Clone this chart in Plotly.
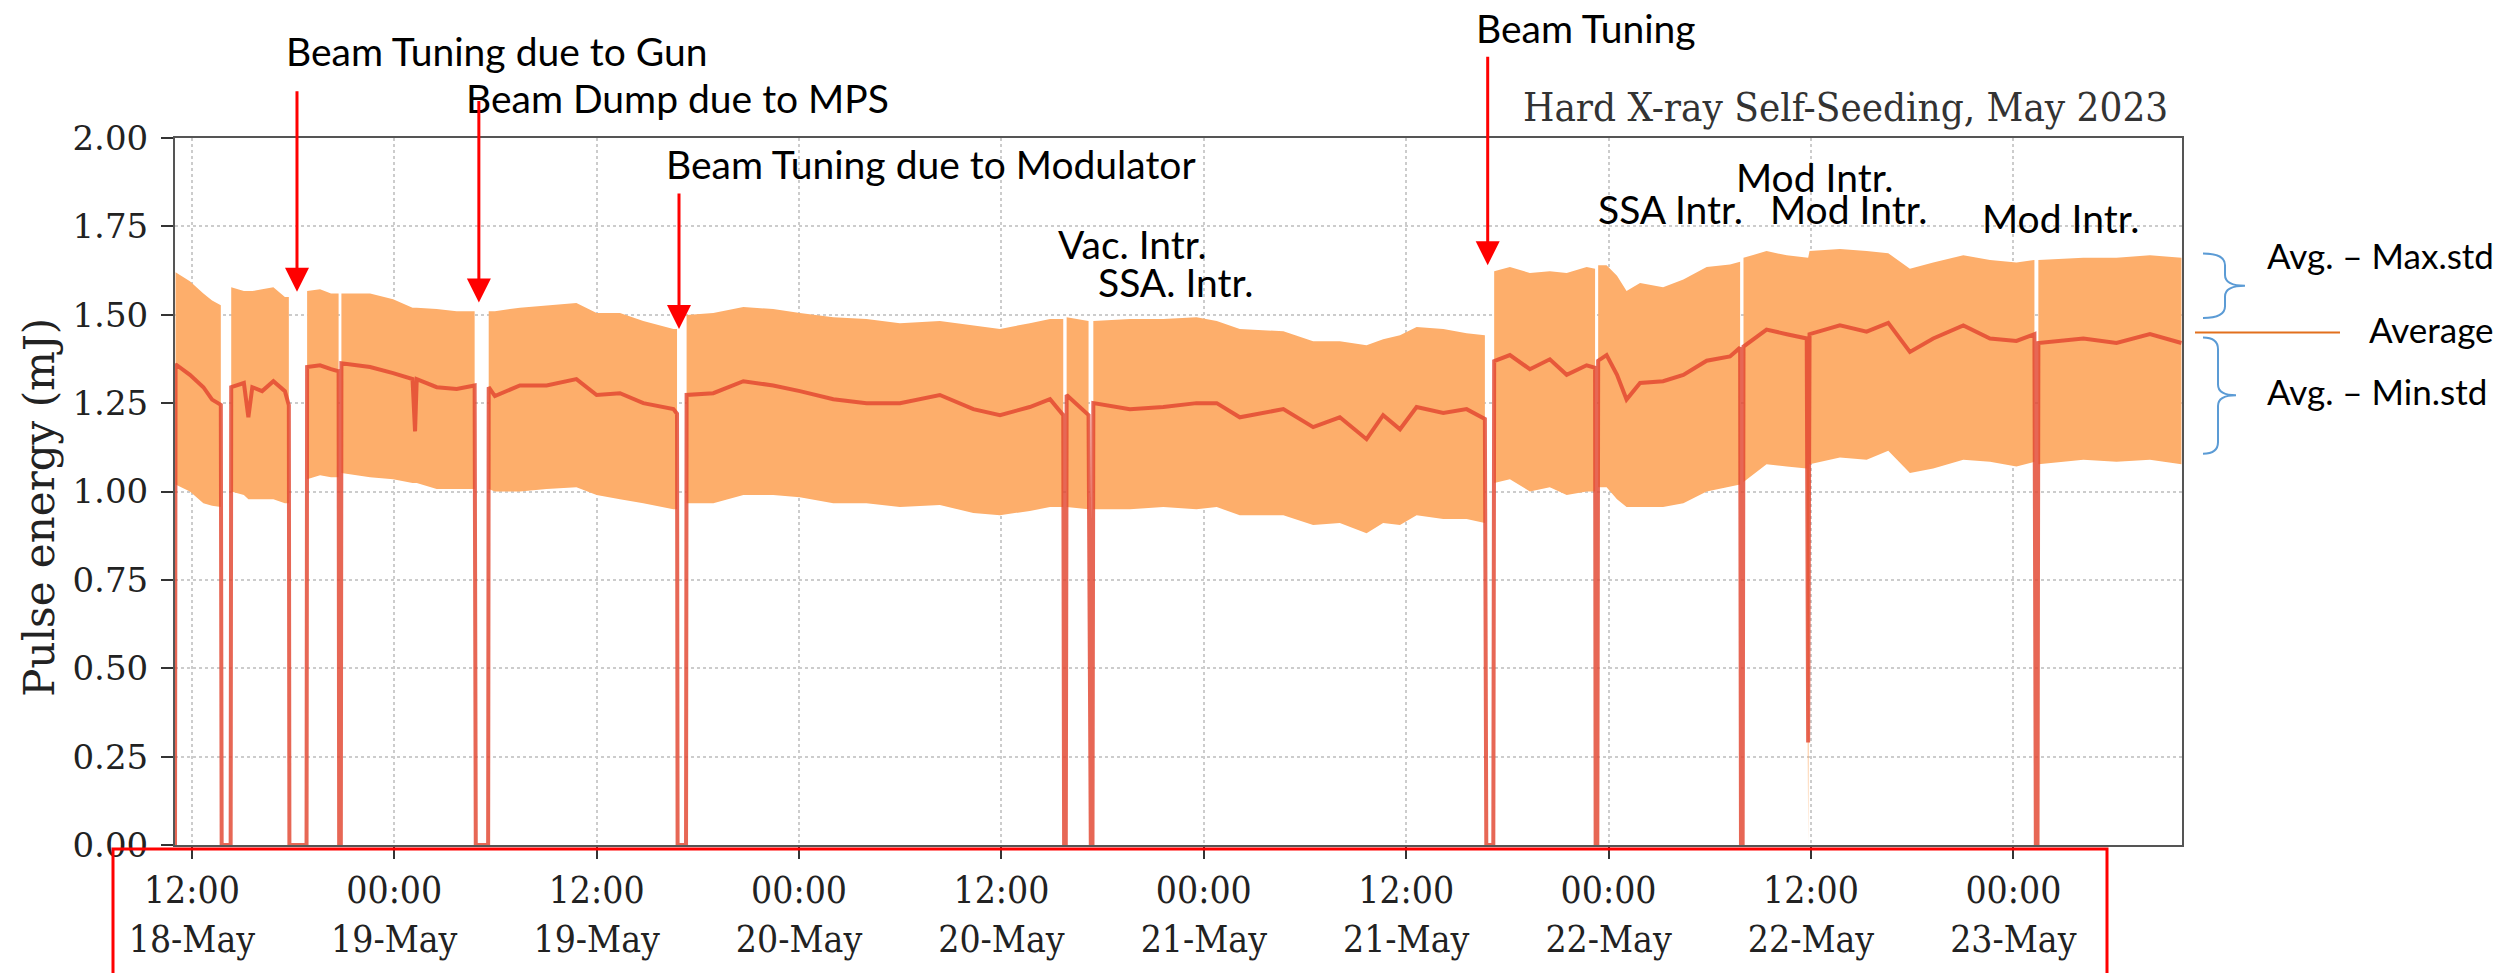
import plotly.graph_objects as go

# ---------------- data ----------------
times = [
    "2023-05-18 11:00", "2023-05-18 11:02", "2023-05-18 11:53", "2023-05-18 12:41", "2023-05-18 13:12",
    "2023-05-18 13:43", "2023-05-18 13:46", "2023-05-18 14:18", "2023-05-18 14:20", "2023-05-18 15:05",
    "2023-05-18 15:21", "2023-05-18 15:35", "2023-05-18 16:10", "2023-05-18 16:50", "2023-05-18 17:31",
    "2023-05-18 17:45", "2023-05-18 17:47", "2023-05-18 18:48", "2023-05-18 18:50", "2023-05-18 19:36",
    "2023-05-18 20:15", "2023-05-18 20:42", "2023-05-18 20:44", "2023-05-18 20:50", "2023-05-18 20:52",
    "2023-05-18 22:34", "2023-05-18 23:56", "2023-05-19 01:05", "2023-05-19 01:14", "2023-05-19 01:20",
    "2023-05-19 02:31", "2023-05-19 03:42", "2023-05-19 04:46", "2023-05-19 04:50", "2023-05-19 05:34",
    "2023-05-19 05:36", "2023-05-19 05:58", "2023-05-19 07:27", "2023-05-19 09:02", "2023-05-19 10:48",
    "2023-05-19 12:00", "2023-05-19 13:23", "2023-05-19 14:46", "2023-05-19 16:33", "2023-05-19 16:46",
    "2023-05-19 16:48", "2023-05-19 17:18", "2023-05-19 17:20", "2023-05-19 18:55", "2023-05-19 20:42",
    "2023-05-19 22:28", "2023-05-20 00:03", "2023-05-20 02:02", "2023-05-20 04:00", "2023-05-20 05:59",
    "2023-05-20 08:21", "2023-05-20 10:20", "2023-05-20 11:55", "2023-05-20 13:41", "2023-05-20 14:53",
    "2023-05-20 15:40", "2023-05-20 15:43", "2023-05-20 15:49", "2023-05-20 15:52", "2023-05-20 17:10",
    "2023-05-20 17:18", "2023-05-20 17:24", "2023-05-20 17:27", "2023-05-20 19:37", "2023-05-20 21:36",
    "2023-05-20 23:34", "2023-05-21 00:46", "2023-05-21 02:08", "2023-05-21 04:43", "2023-05-21 06:29",
    "2023-05-21 08:04", "2023-05-21 09:39", "2023-05-21 10:38", "2023-05-21 11:38", "2023-05-21 12:37",
    "2023-05-21 14:12", "2023-05-21 15:35", "2023-05-21 16:40", "2023-05-21 16:45", "2023-05-21 17:10",
    "2023-05-21 17:13", "2023-05-21 18:09", "2023-05-21 19:20", "2023-05-21 20:31", "2023-05-21 21:31",
    "2023-05-21 22:42", "2023-05-21 23:12", "2023-05-21 23:14", "2023-05-21 23:20", "2023-05-21 23:23",
    "2023-05-21 23:53", "2023-05-22 00:30", "2023-05-22 01:04", "2023-05-22 01:52", "2023-05-22 03:14",
    "2023-05-22 04:26", "2023-05-22 05:49", "2023-05-22 07:12", "2023-05-22 07:48", "2023-05-22 07:51",
    "2023-05-22 07:57", "2023-05-22 08:00", "2023-05-22 09:22", "2023-05-22 10:34", "2023-05-22 11:45",
    "2023-05-22 11:50", "2023-05-22 11:55", "2023-05-22 13:43", "2023-05-22 15:18", "2023-05-22 16:35",
    "2023-05-22 17:52", "2023-05-22 19:15", "2023-05-22 21:02", "2023-05-22 22:37", "2023-05-23 00:11",
    "2023-05-23 01:15", "2023-05-23 01:20", "2023-05-23 01:26", "2023-05-23 01:29", "2023-05-23 04:09",
    "2023-05-23 06:07", "2023-05-23 08:06", "2023-05-23 09:58",
]
avg_energy = [
    0, 1.36, 1.33, 1.295, 1.26,
    1.245, 0, 0, 1.295, 1.307,
    1.21, 1.295, 1.284, 1.312, 1.284,
    1.244, 0, 0, 1.352, 1.357,
    1.346, 1.34, 0, 0, 1.363,
    1.352, 1.335, 1.318, 1.17, 1.318,
    1.295, 1.29, 1.30, 0, 0,
    1.295, 1.27, 1.30, 1.30, 1.318,
    1.273, 1.278, 1.25, 1.233, 1.22,
    0, 0, 1.273, 1.278, 1.312,
    1.30, 1.284, 1.261, 1.25, 1.25,
    1.273, 1.233, 1.216, 1.239, 1.261,
    1.216, 0, 0, 1.273, 1.216,
    0, 0, 1.25, 1.233, 1.239,
    1.25, 1.25, 1.21, 1.233, 1.182,
    1.21, 1.148, 1.216, 1.176, 1.239,
    1.222, 1.233, 1.205, 0, 0,
    1.369, 1.386, 1.346, 1.374, 1.33,
    1.357, 1.35, 0, 0, 1.37,
    1.386, 1.33, 1.26, 1.307, 1.312,
    1.33, 1.37, 1.382, 1.407, 0,
    0, 1.41, 1.458, 1.445, 1.433,
    0.29, 1.445, 1.47, 1.452, 1.477,
    1.395, 1.433, 1.47, 1.433, 1.426,
    1.445, 0, 0, 1.42, 1.433,
    1.42, 1.445, 1.42,
]
max_energy = [
    None, 1.62, 1.595, 1.56, 1.54,
    1.527, None, None, 1.578, 1.567,
    1.567, 1.567, 1.572, 1.578, 1.55,
    1.55, None, None, 1.567, 1.572,
    1.56, 1.56, None, None, 1.56,
    1.56, 1.544, 1.52, 1.52, 1.52,
    1.516, 1.51, 1.51, None, None,
    1.51, 1.51, 1.52, 1.527, 1.533,
    1.505, 1.505, 1.482, 1.46, 1.46,
    None, None, 1.499, 1.505, 1.522,
    1.516, 1.505, 1.493, 1.488, 1.476,
    1.482, 1.47, 1.46, 1.476, 1.488,
    1.488, None, None, 1.493, 1.482,
    None, None, 1.482, 1.488, 1.488,
    1.493, 1.482, 1.46, 1.453, 1.425,
    1.425, 1.414, 1.431, 1.442, 1.465,
    1.46, 1.448, 1.442, None, None,
    1.623, 1.635, 1.618, 1.623, 1.618,
    1.635, 1.63, None, None, 1.64,
    1.64, 1.61, 1.567, 1.59, 1.578,
    1.60, 1.635, 1.642, 1.65, None,
    None, 1.661, 1.68, 1.668, 1.661,
    1.661, 1.68, 1.686, 1.68, 1.674,
    1.63, 1.648, 1.668, 1.655, 1.648,
    1.655, None, None, 1.655, 1.661,
    1.661, 1.668, 1.661,
]
min_energy = [
    None, 1.02, 1.00, 0.967, 0.96,
    0.956, None, None, 1.00, 0.99,
    0.978, 0.978, 0.978, 0.978, 0.967,
    0.967, None, None, 1.035, 1.046,
    1.04, 1.04, None, None, 1.052,
    1.04, 1.035, 1.024, 1.024, 1.024,
    1.007, 1.007, 1.007, None, None,
    1.007, 1.00, 1.00, 1.007, 1.012,
    0.99, 0.978, 0.967, 0.95, 0.95,
    None, None, 0.967, 0.967, 0.99,
    0.99, 0.984, 0.967, 0.967, 0.956,
    0.962, 0.939, 0.933, 0.945, 0.956,
    0.956, None, None, 0.956, 0.95,
    None, None, 0.95, 0.95, 0.956,
    0.95, 0.956, 0.933, 0.933, 0.905,
    0.911, 0.882, 0.911, 0.905, 0.933,
    0.922, 0.922, 0.911, None, None,
    1.024, 1.035, 1.00, 1.012, 0.99,
    1.00, 1.00, None, None, 1.012,
    1.012, 0.978, 0.956, 0.956, 0.956,
    0.967, 1.00, 1.014, 1.02, None,
    None, 1.027, 1.077, 1.071, 1.065,
    0.0, 1.077, 1.096, 1.09, 1.115,
    1.052, 1.065, 1.09, 1.084, 1.071,
    1.084, None, None, 1.077, 1.09,
    1.084, 1.09, 1.077,
]

tick_times = ["2023-05-18 12:00", "2023-05-19 00:00", "2023-05-19 12:00", "2023-05-20 00:00",
              "2023-05-20 12:00", "2023-05-21 00:00", "2023-05-21 12:00", "2023-05-22 00:00",
              "2023-05-22 12:00", "2023-05-23 00:00"]
tick_labels = ["12:00<br>18-May", "00:00<br>19-May", "12:00<br>19-May", "00:00<br>20-May",
               "12:00<br>20-May", "00:00<br>21-May", "12:00<br>21-May", "00:00<br>22-May",
               "12:00<br>22-May", "00:00<br>23-May"]

# arrows: event time, tip value (mJ)
arrow_times = ["2023-05-18 18:14", "2023-05-19 05:01", "2023-05-19 16:53", "2023-05-21 16:50"]
arrow_tips = [1.565, 1.535, 1.46, 1.64]

event_labels = ["Beam Tuning due to Gun", "Beam Dump due to MPS", "Beam Tuning due to Modulator",
                "Vac. Intr.", "SSA. Intr.", "Beam Tuning", "SSA Intr.", "Mod Intr.", "Mod Intr.",
                "Mod Intr."]

# ---------------- geometry helpers (pixels -> paper) ----------------
W, H = 2507, 973
L, R, T, B = 175, 2182, 138, 861


def pxx(X):
    return (X - L) / (R - L)


def pxy(Y):
    return (B - Y) / (B - T)


fig = go.Figure()

# band (min..max) drawn as closed polygons, one per uninterrupted run
bx, by = [], []
seg = []
for t, hi, lo in zip(times, max_energy, min_energy):
    if hi is None:
        if seg:
            bx += [s[0] for s in seg] + [s[0] for s in reversed(seg)] + [None]
            by += [s[1] for s in seg] + [s[2] for s in reversed(seg)] + [None]
            seg = []
    else:
        seg.append((t, hi, lo))
if seg:
    bx += [s[0] for s in seg] + [s[0] for s in reversed(seg)]
    by += [s[1] for s in seg] + [s[2] for s in reversed(seg)]

fig.add_trace(go.Scatter(x=bx, y=by, mode="lines", fill="toself",
                         fillcolor="rgb(253,174,107)", line=dict(width=0),
                         hoverinfo="skip", showlegend=False))
fig.add_trace(go.Scatter(x=times, y=avg_energy, mode="lines",
                         line=dict(color="rgba(226,70,48,0.82)", width=4),
                         showlegend=False))

axis_common = dict(showline=True, mirror=True, linecolor="#555555", linewidth=2,
                   showgrid=True, gridcolor="#cccccc", griddash="dot", gridwidth=1.5,
                   ticks="outside", ticklen=12, tickwidth=2, tickcolor="#333333",
                   zeroline=False)

fig.update_layout(
    width=W, height=H, autosize=False,
    margin=dict(l=L, r=W - R, t=T, b=H - B),
    paper_bgcolor="white", plot_bgcolor="white",
    xaxis=dict(type="date", range=["2023-05-18 11:00", "2023-05-23 10:00"],
               tickmode="array", tickvals=tick_times, ticktext=tick_labels,
               tickfont=dict(family="DejaVu Serif Condensed, DejaVu Serif", size=37, color="#222222"),
               **axis_common),
    yaxis=dict(range=[0, 2], tickmode="linear", tick0=0, dtick=0.25, tickformat=".2f",
               tickfont=dict(family="DejaVu Serif", size=34, color="#222222"),
               ticklabelstandoff=6, **axis_common),
)

ann = []
# y axis title
ann.append(dict(text="Pulse energy (mJ)", x=pxx(40), y=pxy(516), xref="paper", yref="paper",
                textangle=-90, showarrow=False, xanchor="center", yanchor="middle",
                font=dict(family="DejaVu Serif", size=42, color="#222222")))
# chart title
ann.append(dict(text="Hard X-ray Self-Seeding, May 2023", x=pxx(2170), y=pxy(106),
                xref="paper", yref="paper", showarrow=False, xanchor="right", yanchor="middle",
                font=dict(family="DejaVu Serif Condensed, DejaVu Serif", size=40, color="#333333")))

# event labels (left x, centre y in pixels)
label_pos = [(284, 49), (464, 97), (664, 165), (1056, 246), (1096, 285),
             (1474, 25), (1596, 211), (1734, 178), (1768, 211), (1980, 220)]
for txt, (X, Y) in zip(event_labels, label_pos):
    ann.append(dict(text=txt, x=pxx(X), y=pxy(Y), xref="paper", yref="paper", showarrow=False,
                    xanchor="left", yanchor="middle",
                    font=dict(family="Lato", size=39, color="black")))

# red arrows
arrow_tails = [-202, -203, -137, -210]
for t, v, ay in zip(arrow_times, arrow_tips, arrow_tails):
    ann.append(dict(text="", x=t, y=v, xref="x", yref="y", ax=0, ay=ay, showarrow=True,
                    arrowhead=2, arrowsize=1.6, arrowwidth=3, arrowcolor="#ff0000", standoff=0))

# right-side legend texts
for txt, X, Y in [("Avg. – Max.std", 2265, 258), ("Average", 2367, 333), ("Avg. – Min.std", 2265, 397)]:
    ann.append(dict(text=txt, x=pxx(X), y=pxy(Y), xref="paper", yref="paper", showarrow=False,
                    xanchor="left", yanchor="middle",
                    font=dict(family="Lato", size=35, color="black")))

fig.update_layout(annotations=ann)


def path_px(cmds):
    out = []
    for c in cmds:
        if isinstance(c, str):
            out.append(c)
        else:
            out.append(f"{pxx(c[0]):.5f},{pxy(c[1]):.5f}")
    return " ".join(out)


shapes = []
# braces
for (top, mid, bot, spine, tipx) in [(256, 289, 322, 2225, 2245), (342, 401, 461, 2218, 2236)]:
    p = path_px(["M", (2203, top), "Q", (spine, top), (spine, top + 12), "L", (spine, mid - 11),
                 "Q", (spine, mid), (tipx, mid), "Q", (spine, mid), (spine, mid + 11),
                 "L", (spine, bot - 12), "Q", (spine, bot), (2203, bot)])
    shapes.append(dict(type="path", path=p, xref="paper", yref="paper",
                       line=dict(color="#5B9BD5", width=2)))
# average marker line
shapes.append(dict(type="line", x0=pxx(2195), x1=pxx(2340), y0=pxy(337), y1=pxy(337),
                   xref="paper", yref="paper", line=dict(color="#E2701E", width=2)))
# red rectangle around the x tick labels (its bottom edge runs off the page)
shapes.append(dict(type="rect", x0=pxx(113), x1=pxx(2107), y0=pxy(1040), y1=pxy(865),
                   xref="paper", yref="paper", line=dict(color="#ff0000", width=3)))
fig.update_layout(shapes=shapes)

fig.write_html("out.html")
